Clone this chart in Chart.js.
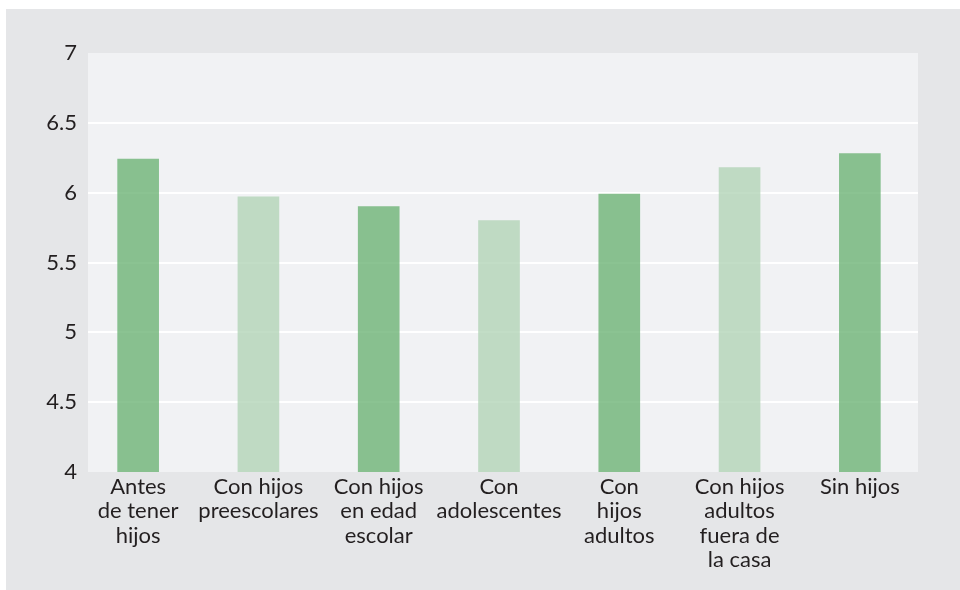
<!DOCTYPE html>
<html>
<head>
<meta charset="utf-8">
<script src="https://cdn.jsdelivr.net/npm/chart.js@4/dist/chart.umd.min.js"></script>
<style>
  html, body { margin: 0; padding: 0; background: #ffffff; }
  #wrap { position: absolute; left: 6px; top: 9px; width: 954px; height: 581px; background: #e5e6e8; }
</style>
</head>
<body>
<div id="wrap"><canvas id="grafico" width="954" height="581"></canvas></div>
<script>
// etapas del ciclo familiar
const etapas = [
  ['Antes', 'de tener', 'hijos'],
  ['Con hijos', 'preescolares'],
  ['Con hijos', 'en edad', 'escolar'],
  ['Con', 'adolescentes'],
  ['Con', 'hijos', 'adultos'],
  ['Con hijos', 'adultos', 'fuera de', 'la casa'],
  ['Sin hijos']
];
const valores = [6.24, 5.97, 5.9, 5.8, 5.99, 6.18, 6.28];
const marcasY = [4, 4.5, 5, 5.5, 6, 6.5, 7];

const verdeOscuro = 'rgba(100, 175, 110, 0.75)';
const verdeClaro = 'rgba(173, 210, 179, 0.75)';

// el recuadro claro es algo mas estrecho que el area de las categorias
const margenIzq = 10;
const margenDer = 2;

// fondo claro y lineas blancas de la cuadricula
const fondoArea = {
  id: 'fondoArea',
  beforeDatasetsDraw(chart) {
    const { ctx, chartArea: a, scales } = chart;
    const x0 = a.left + margenIzq;
    const x1 = a.right - margenDer;
    ctx.save();
    ctx.fillStyle = '#f1f2f4';
    ctx.fillRect(x0, a.top, x1 - x0, a.bottom - a.top);
    ctx.strokeStyle = '#ffffff';
    ctx.lineWidth = 2;
    marcasY.slice(1, -1).forEach(v => {
      const y = Math.round(scales.y.getPixelForValue(v));
      ctx.beginPath();
      ctx.moveTo(x0, y);
      ctx.lineTo(x1, y);
      ctx.stroke();
    });
    ctx.restore();
  }
};

const ctx = document.getElementById('grafico').getContext('2d');
new Chart(ctx, {
  type: 'bar',
  data: {
    labels: etapas,
    datasets: [{
      data: valores,
      backgroundColor: valores.map((v, i) => i % 2 === 0 ? verdeOscuro : verdeClaro),
      borderWidth: 0,
      barThickness: 41
    }]
  },
  options: {
    responsive: false,
    animation: false,
    layout: { padding: { top: 44, right: 40, left: 0, bottom: 0 } },
    plugins: {
      legend: { display: false },
      tooltip: { enabled: false }
    },
    scales: {
      x: {
        grid: { display: false, drawTicks: false },
        border: { display: false },
        ticks: {
          color: '#231f20',
          font: { family: 'Lato', size: 22, lineHeight: 1.1 },
          padding: 3,
          maxRotation: 0,
          autoSkip: false
        },
        afterFit(scale) { scale.height = 118; }
      },
      y: {
        min: 4,
        max: 7,
        afterBuildTicks(scale) { scale.ticks = marcasY.map(v => ({ value: v })); },
        grid: { display: false, drawTicks: false },
        border: { display: false },
        ticks: {
          color: '#231f20',
          font: { family: 'Lato', size: 22 },
          padding: 1,
          callback: v => String(v)
        },
        afterFit(scale) { scale.width = 72; }
      }
    }
  },
  plugins: [fondoArea]
});
</script>
</body>
</html>
